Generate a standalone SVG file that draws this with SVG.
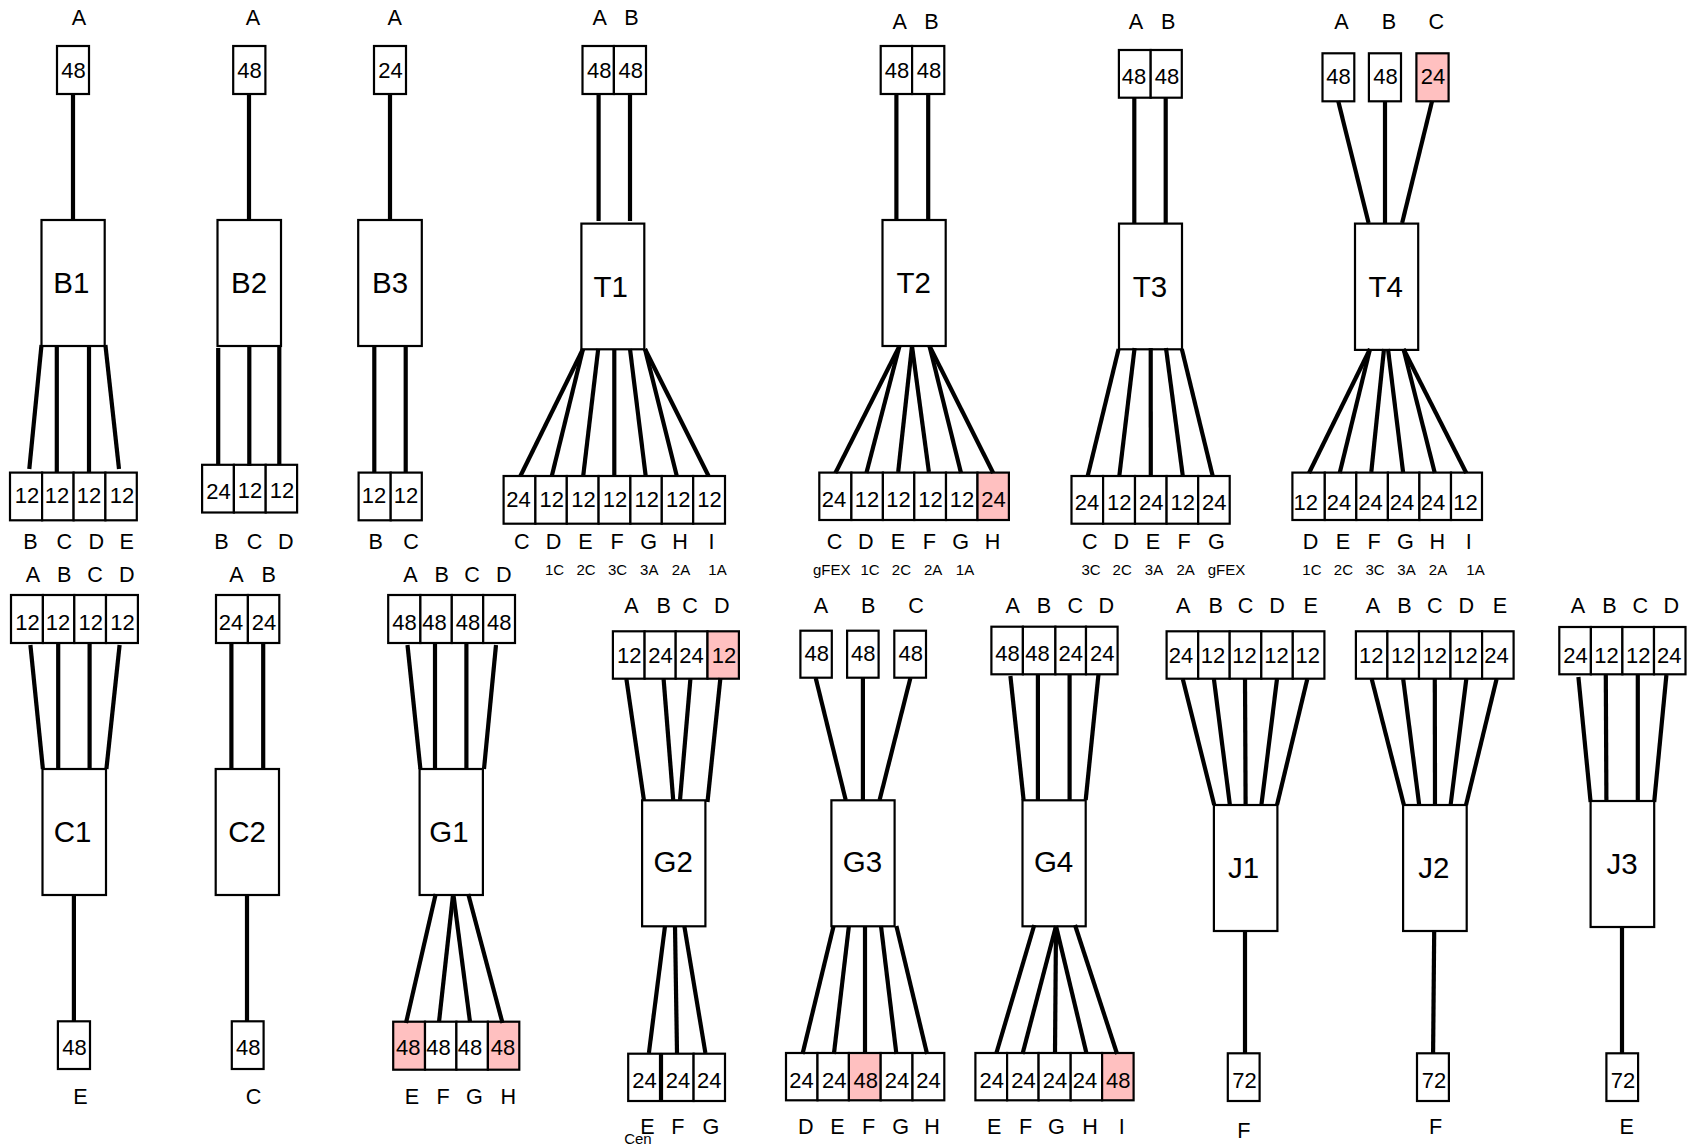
<svg xmlns="http://www.w3.org/2000/svg" width="1691" height="1146" viewBox="0 0 1691 1146">
<style>
text{font-family:"Liberation Sans",Arial,Helvetica,sans-serif;fill:#000;text-anchor:middle}
.n{font-size:22px}.l{font-size:21.6px}.t{font-size:29.5px;transform:translateY(-1px)}.s{font-size:15px}
rect{fill:#fff;stroke:#000;stroke-width:2.2}
rect.p{fill:#ffc0c0}
line{stroke:#000;stroke-width:4.2}
</style>
<rect x="0" y="0" width="1691" height="1146" style="fill:#fff;stroke:none"/>
<g id="B1">
<g id="B1-in"><rect x="57" y="46" width="32" height="48"/><text class="n" x="73.6" y="77.7">48</text><text class="l" x="79" y="25">A</text></g>
<g id="B1-box"><rect x="41.5" y="220" width="63.2" height="126"/><text class="t" x="71.4" y="294">B1</text></g>
<g id="B1-out"><rect x="10" y="472.6" width="32.1" height="47.7"/><rect x="42.1" y="472.6" width="31.5" height="47.7"/><rect x="73.6" y="472.6" width="31.8" height="47.7"/><rect x="105.4" y="472.6" width="31.4" height="47.7"/>
<text class="n" x="27" y="503.2">12</text><text class="n" x="57" y="503.2">12</text><text class="n" x="89" y="503.2">12</text><text class="n" x="122" y="503.2">12</text>
<text class="l" x="30.4" y="549.3">B</text><text class="l" x="64.3" y="549.3">C</text><text class="l" x="96.4" y="549.3">D</text><text class="l" x="126.8" y="549.3">E</text></g>
</g>
<g id="B2">
<g id="B2-in"><rect x="233.2" y="46" width="32.2" height="48"/><text class="n" x="249.6" y="77.7">48</text><text class="l" x="252.9" y="25">A</text></g>
<g id="B2-box"><rect x="217.5" y="220" width="63.5" height="126"/><text class="t" x="249" y="294">B2</text></g>
<g id="B2-out"><rect x="202.1" y="464.8" width="31.8" height="47.7"/><rect x="233.9" y="464.8" width="31.8" height="47.7"/><rect x="265.7" y="464.8" width="31.4" height="47.7"/>
<text class="n" x="218.6" y="499">24</text><text class="n" x="250" y="498.3">12</text><text class="n" x="282" y="498.3">12</text>
<text class="l" x="221.4" y="549.3">B</text><text class="l" x="254.6" y="549.3">C</text><text class="l" x="285.7" y="549.3">D</text></g>
</g>
<g id="B3">
<g id="B3-in"><rect x="374" y="46" width="32" height="48"/><text class="n" x="390.4" y="77.7">24</text><text class="l" x="394.6" y="25">A</text></g>
<g id="B3-box"><rect x="358.2" y="220" width="63.6" height="126"/><text class="t" x="390" y="294">B3</text></g>
<g id="B3-out"><rect x="358.6" y="472.6" width="32.1" height="47.7"/><rect x="390.7" y="472.6" width="31.1" height="47.7"/>
<text class="n" x="374" y="503.2">12</text><text class="n" x="406" y="503.2">12</text>
<text class="l" x="375.7" y="549.3">B</text><text class="l" x="411" y="549.3">C</text></g>
</g>
<g id="T1">
<g id="T1-in"><rect x="582.5" y="46" width="31.4" height="48"/><rect x="613.9" y="46" width="32.1" height="48"/>
<text class="n" x="599.3" y="77.7">48</text><text class="n" x="630.7" y="77.7">48</text><text class="l" x="599.6" y="25">A</text><text class="l" x="631.4" y="25">B</text></g>
<g id="T1-box"><rect x="581.4" y="223.6" width="62.9" height="125.7"/><text class="t" x="610.7" y="297.7">T1</text></g>
<g id="T1-out"><rect x="503.6" y="476" width="31.8" height="47.7"/><rect x="535.4" y="476" width="31.4" height="47.7"/><rect x="566.8" y="476" width="31.8" height="47.7"/><rect x="598.6" y="476" width="31.8" height="47.7"/><rect x="630.4" y="476" width="31.4" height="47.7"/><rect x="661.8" y="476" width="31.4" height="47.7"/><rect x="693.2" y="476" width="31.8" height="47.7"/>
<text class="n" x="518.6" y="507">24</text><text class="n" x="551.8" y="507">12</text><text class="n" x="583.6" y="507">12</text><text class="n" x="615" y="507">12</text><text class="n" x="646.8" y="507">12</text><text class="n" x="678.2" y="507">12</text><text class="n" x="709.6" y="507">12</text>
<text class="l" x="521.8" y="549.3">C</text><text class="l" x="553.6" y="549.3">D</text><text class="l" x="585.4" y="549.3">E</text><text class="l" x="617" y="549.3">F</text><text class="l" x="648.6" y="549.3">G</text><text class="l" x="680" y="549.3">H</text><text class="l" x="711.4" y="549.3">I</text>
<text class="s" x="554.6" y="575.3">1C</text><text class="s" x="586" y="575.3">2C</text><text class="s" x="617.5" y="575.3">3C</text><text class="s" x="649.3" y="575.3">3A</text><text class="s" x="681" y="575.3">2A</text><text class="s" x="717.5" y="575.3">1A</text></g>
</g>
<g id="T2">
<g id="T2-in"><rect x="880.7" y="46" width="31.4" height="48"/><rect x="912.1" y="46" width="32.2" height="48"/>
<text class="n" x="897" y="77.7">48</text><text class="n" x="929" y="77.7">48</text><text class="l" x="899.6" y="29.3">A</text><text class="l" x="931.4" y="29.3">B</text></g>
<g id="T2-box"><rect x="882.5" y="220" width="63.2" height="126"/><text class="t" x="913.6" y="294">T2</text></g>
<g id="T2-out"><rect x="819.3" y="472.6" width="32.1" height="47.4"/><rect x="851.4" y="472.6" width="31.5" height="47.4"/><rect x="882.9" y="472.6" width="31.4" height="47.4"/><rect x="914.3" y="472.6" width="31.7" height="47.4"/><rect x="946" y="472.6" width="31.5" height="47.4"/><rect class="p" x="977.5" y="472.6" width="31.4" height="47.4"/>
<text class="n" x="833.9" y="507">24</text><text class="n" x="867" y="507">12</text><text class="n" x="898.6" y="507">12</text><text class="n" x="930.4" y="507">12</text><text class="n" x="962.1" y="507">12</text><text class="n" x="993.6" y="507">24</text>
<text class="l" x="834.6" y="549.3">C</text><text class="l" x="865.7" y="549.3">D</text><text class="l" x="897.9" y="549.3">E</text><text class="l" x="929.3" y="549.3">F</text><text class="l" x="960.7" y="549.3">G</text><text class="l" x="992.5" y="549.3">H</text>
<text class="s" x="831.8" y="575.3">gFEX</text><text class="s" x="870" y="575.3">1C</text><text class="s" x="901.4" y="575.3">2C</text><text class="s" x="933.2" y="575.3">2A</text><text class="s" x="965" y="575.3">1A</text></g>
</g>
<g id="T3">
<g id="T3-in"><rect x="1118.9" y="50" width="31.8" height="47.7"/><rect x="1150.7" y="50" width="31.1" height="47.7"/>
<text class="n" x="1133.9" y="84">48</text><text class="n" x="1167" y="84">48</text><text class="l" x="1136" y="29.3">A</text><text class="l" x="1168.2" y="29.3">B</text></g>
<g id="T3-box"><rect x="1119" y="223.6" width="63" height="125.7"/><text class="t" x="1150" y="297.7">T3</text></g>
<g id="T3-out"><rect x="1071.5" y="476" width="31.6" height="47.7"/><rect x="1103.1" y="476" width="31.9" height="47.7"/><rect x="1135" y="476" width="31.6" height="47.7"/><rect x="1166.6" y="476" width="31.6" height="47.7"/><rect x="1198.2" y="476" width="31.5" height="47.7"/>
<text class="n" x="1086.9" y="510">24</text><text class="n" x="1119.3" y="510">12</text><text class="n" x="1151.2" y="510">24</text><text class="n" x="1182.8" y="510">12</text><text class="n" x="1214.3" y="510">24</text>
<text class="l" x="1089.8" y="549.3">C</text><text class="l" x="1121.4" y="549.3">D</text><text class="l" x="1152.9" y="549.3">E</text><text class="l" x="1184" y="549.3">F</text><text class="l" x="1216.4" y="549.3">G</text>
<text class="s" x="1091" y="575.3">3C</text><text class="s" x="1122.2" y="575.3">2C</text><text class="s" x="1154" y="575.3">3A</text><text class="s" x="1185.7" y="575.3">2A</text><text class="s" x="1226.4" y="575.3">gFEX</text></g>
</g>
<g id="T4">
<g id="T4-in"><rect x="1322.5" y="53.3" width="31.8" height="48"/><rect x="1368.9" y="53.3" width="32.1" height="48"/><rect class="p" x="1416.4" y="53.3" width="32.2" height="48"/>
<text class="n" x="1338.6" y="84.3">48</text><text class="n" x="1385.4" y="84.3">48</text><text class="n" x="1432.9" y="84.3">24</text>
<text class="l" x="1341.4" y="29.3">A</text><text class="l" x="1389" y="29.3">B</text><text class="l" x="1436.4" y="29.3">C</text></g>
<g id="T4-box"><rect x="1355" y="223.6" width="63.2" height="126.3"/><text class="t" x="1385.7" y="297.7">T4</text></g>
<g id="T4-out"><rect x="1292.4" y="472.6" width="32.4" height="47.4"/><rect x="1324.8" y="472.6" width="31.5" height="47.4"/><rect x="1356.3" y="472.6" width="31.6" height="47.4"/><rect x="1387.9" y="472.6" width="31.5" height="47.4"/><rect x="1419.4" y="472.6" width="31.6" height="47.4"/><rect x="1451" y="472.6" width="31" height="47.4"/>
<text class="n" x="1305.7" y="510">12</text><text class="n" x="1338.9" y="510">24</text><text class="n" x="1370.4" y="510">24</text><text class="n" x="1402" y="510">24</text><text class="n" x="1433.1" y="510">24</text><text class="n" x="1465.5" y="510">12</text>
<text class="l" x="1310.6" y="549.3">D</text><text class="l" x="1343" y="549.3">E</text><text class="l" x="1374.2" y="549.3">F</text><text class="l" x="1405.3" y="549.3">G</text><text class="l" x="1437.3" y="549.3">H</text><text class="l" x="1468.8" y="549.3">I</text>
<text class="s" x="1311.9" y="575.3">1C</text><text class="s" x="1343.4" y="575.3">2C</text><text class="s" x="1375" y="575.3">3C</text><text class="s" x="1406.5" y="575.3">3A</text><text class="s" x="1438" y="575.3">2A</text><text class="s" x="1475.5" y="575.3">1A</text></g>
</g>
<g id="C1" transform="translate(0,1)">
<g id="C1-in"><rect x="11" y="594" width="31.9" height="48"/><rect x="42.9" y="594" width="31.4" height="48"/><rect x="74.3" y="594" width="31.7" height="48"/><rect x="106" y="594" width="31.9" height="48"/>
<text class="n" x="27.5" y="629.3">12</text><text class="n" x="57.9" y="629.3">12</text><text class="n" x="90.7" y="629.3">12</text><text class="n" x="122.5" y="629.3">12</text>
<text class="l" x="32.9" y="580.7">A</text><text class="l" x="64.3" y="580.7">B</text><text class="l" x="95" y="580.7">C</text><text class="l" x="126.8" y="580.7">D</text></g>
<g id="C1-box"><rect x="42.5" y="768" width="63.5" height="126"/><text class="t" x="72.5" y="841.7">C1</text></g>
<g id="C1-out"><rect x="57.9" y="1020.3" width="32.1" height="47.7"/><text class="n" x="74.6" y="1054.2">48</text><text class="l" x="80.4" y="1103">E</text></g>
</g>
<g id="C2" transform="translate(0,1)">
<g id="C2-in"><rect x="216" y="594" width="31.9" height="48"/><rect x="247.9" y="594" width="31.4" height="48"/>
<text class="n" x="231" y="629.3">24</text><text class="n" x="264" y="629.3">24</text><text class="l" x="236.4" y="580.7">A</text><text class="l" x="268.6" y="580.7">B</text></g>
<g id="C2-box"><rect x="215.7" y="768" width="63.3" height="126"/><text class="t" x="247" y="841.7">C2</text></g>
<g id="C2-out"><rect x="231.8" y="1020.3" width="31.8" height="47.7"/><text class="n" x="248.2" y="1054.2">48</text><text class="l" x="253.6" y="1103">C</text></g>
</g>
<g id="G1" transform="translate(0,1)">
<g id="G1-in"><rect x="388.2" y="594" width="32.2" height="48"/><rect x="420.4" y="594" width="31.4" height="48"/><rect x="451.8" y="594" width="31.4" height="48"/><rect x="483.2" y="594" width="31.8" height="48"/>
<text class="n" x="404.6" y="629.3">48</text><text class="n" x="434.6" y="629.3">48</text><text class="n" x="467.9" y="629.3">48</text><text class="n" x="499.3" y="629.3">48</text>
<text class="l" x="410.4" y="580.7">A</text><text class="l" x="441.8" y="580.7">B</text><text class="l" x="472.1" y="580.7">C</text><text class="l" x="503.9" y="580.7">D</text></g>
<g id="G1-box"><rect x="419.6" y="768" width="63.3" height="126"/><text class="t" x="449" y="841.7">G1</text></g>
<g id="G1-out"><rect class="p" x="393.2" y="1020.7" width="31.8" height="48"/><rect x="425" y="1020.7" width="31.4" height="48"/><rect x="456.4" y="1020.7" width="31.5" height="48"/><rect class="p" x="487.9" y="1020.7" width="31.4" height="48"/>
<text class="n" x="408.2" y="1054.2">48</text><text class="n" x="438.6" y="1054.2">48</text><text class="n" x="470" y="1054.2">48</text><text class="n" x="502.9" y="1054.2">48</text>
<text class="l" x="412" y="1103">E</text><text class="l" x="443" y="1103">F</text><text class="l" x="474.3" y="1103">G</text><text class="l" x="508.2" y="1103">H</text></g>
</g>
<g id="G2" transform="translate(0,1)">
<g id="G2-in"><rect x="612.9" y="630.3" width="31.7" height="47.4"/><rect x="644.6" y="630.3" width="31.1" height="47.4"/><rect x="675.7" y="630.3" width="31.8" height="47.4"/><rect class="p" x="707.5" y="630.3" width="31.4" height="47.4"/>
<text class="n" x="629.3" y="661.7">12</text><text class="n" x="660.4" y="661.7">24</text><text class="n" x="691.4" y="661.7">24</text><text class="n" x="723.9" y="661.7">12</text>
<text class="l" x="631.4" y="612.3">A</text><text class="l" x="663.6" y="612.3">B</text><text class="l" x="690" y="612.3">C</text><text class="l" x="721.8" y="612.3">D</text></g>
<g id="G2-box"><rect x="642.1" y="799.3" width="63.3" height="126"/><text class="t" x="673.2" y="871.7">G2</text></g>
<g id="G2-out"><rect x="628.2" y="1052.7" width="31.8" height="47.3"/><rect x="662" y="1052.7" width="31.6" height="47.3"/><rect x="693.6" y="1052.7" width="31.4" height="47.3"/>
<text class="n" x="644.6" y="1087">24</text><text class="n" x="677.9" y="1087">24</text><text class="n" x="709.3" y="1087">24</text>
<text class="l" x="647.5" y="1133.3">E</text><text class="l" x="677.9" y="1133.3">F</text><text class="l" x="711" y="1133.3">G</text><text class="s" x="637.9" y="1142.7">Cen</text></g>
</g>
<g id="G3" transform="translate(0,1)">
<g id="G3-in"><rect x="800.4" y="629.7" width="31.4" height="47"/><rect x="847.1" y="629.7" width="31.5" height="47"/><rect x="894.3" y="629.7" width="31.7" height="47"/>
<text class="n" x="816.8" y="660">48</text><text class="n" x="863.2" y="660">48</text><text class="n" x="910.7" y="660">48</text>
<text class="l" x="821" y="612.3">A</text><text class="l" x="868.2" y="612.3">B</text><text class="l" x="916" y="612.3">C</text></g>
<g id="G3-box"><rect x="831.4" y="799.3" width="63.2" height="126"/><text class="t" x="862.5" y="871.7">G3</text></g>
<g id="G3-out"><rect x="786" y="1052" width="31.5" height="47.3"/><rect x="817.5" y="1052" width="31.4" height="47.3"/><rect class="p" x="848.9" y="1052" width="31.8" height="47.3"/><rect x="880.7" y="1052" width="31.8" height="47.3"/><rect x="912.5" y="1052" width="31.8" height="47.3"/>
<text class="n" x="801.4" y="1086.7">24</text><text class="n" x="834.3" y="1086.7">24</text><text class="n" x="865.7" y="1086.7">48</text><text class="n" x="897.1" y="1086.7">24</text><text class="n" x="928.6" y="1086.7">24</text>
<text class="l" x="805.7" y="1133.3">D</text><text class="l" x="837.5" y="1133.3">E</text><text class="l" x="868.6" y="1133.3">F</text><text class="l" x="900.7" y="1133.3">G</text><text class="l" x="932.1" y="1133.3">H</text></g>
</g>
<g id="G4" transform="translate(0,1)">
<g id="G4-in"><rect x="991.4" y="625.7" width="31.5" height="47.6"/><rect x="1022.9" y="625.7" width="32.5" height="47.6"/><rect x="1055.4" y="625.7" width="30.6" height="47.6"/><rect x="1086" y="625.7" width="31.6" height="47.6"/>
<text class="n" x="1007.5" y="660">48</text><text class="n" x="1037.5" y="660">48</text><text class="n" x="1070.7" y="660">24</text><text class="n" x="1102.3" y="660">24</text>
<text class="l" x="1012.7" y="612.3">A</text><text class="l" x="1044" y="612.3">B</text><text class="l" x="1075.3" y="612.3">C</text><text class="l" x="1106.4" y="612.3">D</text></g>
<g id="G4-box"><rect x="1022.5" y="799.3" width="63.2" height="126"/><text class="t" x="1053.6" y="871.7">G4</text></g>
<g id="G4-out"><rect x="975.4" y="1052" width="31.7" height="47.3"/><rect x="1007.1" y="1052" width="31.5" height="47.3"/><rect x="1038.6" y="1052" width="32.1" height="47.3"/><rect x="1070.7" y="1052" width="31.4" height="47.3"/><rect class="p" x="1102.1" y="1052" width="31.5" height="47.3"/>
<text class="n" x="991.8" y="1086.7">24</text><text class="n" x="1023.6" y="1086.7">24</text><text class="n" x="1055" y="1086.7">24</text><text class="n" x="1085" y="1086.7">24</text><text class="n" x="1118.2" y="1086.7">48</text>
<text class="l" x="994.3" y="1133.3">E</text><text class="l" x="1025.7" y="1133.3">F</text><text class="l" x="1056.4" y="1133.3">G</text><text class="l" x="1090" y="1133.3">H</text><text class="l" x="1121.8" y="1133.3">I</text></g>
</g>
<g id="J1" transform="translate(0,1)">
<g id="J1-in"><rect x="1166.6" y="630.3" width="31.6" height="47.4"/><rect x="1198.2" y="630.3" width="31.5" height="47.4"/><rect x="1229.7" y="630.3" width="31.6" height="47.4"/><rect x="1261.3" y="630.3" width="31.5" height="47.4"/><rect x="1292.8" y="630.3" width="31.6" height="47.4"/>
<text class="n" x="1181.1" y="661.7">24</text><text class="n" x="1213.1" y="661.7">12</text><text class="n" x="1244.6" y="661.7">12</text><text class="n" x="1276.6" y="661.7">12</text><text class="n" x="1307.7" y="661.7">12</text>
<text class="l" x="1183.2" y="612.3">A</text><text class="l" x="1215.6" y="612.3">B</text><text class="l" x="1245.5" y="612.3">C</text><text class="l" x="1277" y="612.3">D</text><text class="l" x="1310.7" y="612.3">E</text></g>
<g id="J1-box"><rect x="1213.9" y="804" width="63.5" height="126"/><text class="t" x="1243.5" y="877.7">J1</text></g>
<g id="J1-out"><rect x="1227.8" y="1052.3" width="31.8" height="47.7"/><text class="n" x="1244.6" y="1087">72</text><text class="l" x="1243.9" y="1136.7">F</text></g>
</g>
<g id="J2" transform="translate(0,1)">
<g id="J2-in"><rect x="1355.9" y="630.3" width="31.5" height="47.4"/><rect x="1387.4" y="630.3" width="31.6" height="47.4"/><rect x="1419" y="630.3" width="31.5" height="47.4"/><rect x="1450.5" y="630.3" width="31.6" height="47.4"/><rect x="1482.1" y="630.3" width="31.5" height="47.4"/>
<text class="n" x="1371.3" y="661.7">12</text><text class="n" x="1403.2" y="661.7">12</text><text class="n" x="1434.8" y="661.7">12</text><text class="n" x="1465.5" y="661.7">12</text><text class="n" x="1496.6" y="661.7">24</text>
<text class="l" x="1372.9" y="612.3">A</text><text class="l" x="1404.5" y="612.3">B</text><text class="l" x="1434.8" y="612.3">C</text><text class="l" x="1466.3" y="612.3">D</text><text class="l" x="1500" y="612.3">E</text></g>
<g id="J2-box"><rect x="1403.1" y="804" width="63.6" height="126"/><text class="t" x="1433.9" y="877.7">J2</text></g>
<g id="J2-out"><rect x="1417" y="1052.3" width="31.9" height="47.7"/><text class="n" x="1433.9" y="1087">72</text><text class="l" x="1435.6" y="1133.3">F</text></g>
</g>
<g id="J3" transform="translate(0,1)">
<g id="J3-in"><rect x="1559.3" y="626" width="31.6" height="47.3"/><rect x="1590.9" y="626" width="31.5" height="47.3"/><rect x="1622.4" y="626" width="31.6" height="47.3"/><rect x="1654" y="626" width="31.5" height="47.3"/>
<text class="n" x="1575.5" y="661.7">24</text><text class="n" x="1606.6" y="661.7">12</text><text class="n" x="1638.2" y="661.7">12</text><text class="n" x="1669.3" y="661.7">24</text>
<text class="l" x="1578" y="612.3">A</text><text class="l" x="1609.5" y="612.3">B</text><text class="l" x="1640.2" y="612.3">C</text><text class="l" x="1671.4" y="612.3">D</text></g>
<g id="J3-box"><rect x="1590.6" y="800" width="63.6" height="126"/><text class="t" x="1622" y="874.3">J3</text></g>
<g id="J3-out"><rect x="1606.4" y="1052.3" width="31.7" height="47.7"/><text class="n" x="1623.1" y="1087">72</text><text class="l" x="1626.7" y="1133.3">E</text></g>
</g>
<g id="connectors">
<g id="connectors-upper">
<line x1="73" y1="94" x2="73" y2="220"/>
<line x1="41.5" y1="345" x2="29.3" y2="469"/><line x1="56.8" y1="346" x2="56.8" y2="472"/><line x1="89" y1="346" x2="89" y2="472"/><line x1="105.4" y1="345" x2="119" y2="469"/>
<line x1="249" y1="94" x2="249" y2="220"/>
<line x1="218.2" y1="348" x2="218.2" y2="464"/><line x1="249.3" y1="346" x2="249.3" y2="466"/><line x1="279.3" y1="346" x2="279.3" y2="464"/>
<line x1="390" y1="94" x2="390" y2="220"/>
<line x1="374.3" y1="346" x2="374.3" y2="472"/><line x1="405.7" y1="346" x2="405.7" y2="472"/>
<line x1="598.6" y1="94" x2="598.6" y2="221"/><line x1="630" y1="94" x2="630" y2="221"/>
<line x1="583" y1="349" x2="520.4" y2="476"/><line x1="583" y1="349" x2="551.8" y2="476"/><line x1="598.2" y1="349" x2="583.2" y2="476"/><line x1="614.3" y1="349" x2="614.3" y2="476"/><line x1="630" y1="349" x2="645.7" y2="476"/><line x1="645" y1="349" x2="676.8" y2="476"/><line x1="645" y1="349" x2="708.6" y2="476"/>
<line x1="896.4" y1="94" x2="896.4" y2="220"/><line x1="928.2" y1="94" x2="928.2" y2="220"/>
<line x1="899.5" y1="346" x2="835.4" y2="473"/><line x1="899.5" y1="346" x2="866.4" y2="473"/><line x1="912" y1="346" x2="898.2" y2="472"/><line x1="912" y1="346" x2="928.9" y2="472"/><line x1="929.5" y1="346" x2="961" y2="473"/><line x1="929.5" y1="346" x2="993.2" y2="473"/>
<line x1="1134.3" y1="98" x2="1134.3" y2="223"/><line x1="1165.7" y1="98" x2="1165.7" y2="223"/>
<line x1="1118.6" y1="349" x2="1087.7" y2="476"/><line x1="1134.6" y1="348" x2="1119.3" y2="476"/><line x1="1150.7" y1="348" x2="1150.8" y2="476"/><line x1="1166" y1="348" x2="1182.8" y2="476"/><line x1="1181.8" y1="349" x2="1212.7" y2="476"/>
<line x1="1338.2" y1="101" x2="1368.6" y2="223"/><line x1="1385" y1="101" x2="1385" y2="223"/><line x1="1432.1" y1="101" x2="1402.1" y2="223"/>
<line x1="1370" y1="349" x2="1309" y2="473"/><line x1="1370" y1="349" x2="1339.7" y2="473"/><line x1="1384" y1="349" x2="1371.3" y2="472"/><line x1="1388" y1="349" x2="1403.2" y2="473"/><line x1="1403.5" y1="349" x2="1434.8" y2="473"/><line x1="1403.5" y1="349" x2="1466.3" y2="473"/>
</g>
<g id="connectors-lower" transform="translate(0,1)">
<line x1="30.4" y1="644" x2="42.9" y2="768"/><line x1="58.2" y1="642" x2="58.2" y2="768"/><line x1="89.6" y1="642" x2="89.6" y2="768"/><line x1="119.6" y1="644" x2="106.4" y2="768"/>
<line x1="73.9" y1="894" x2="73.9" y2="1020"/>
<line x1="231.4" y1="642" x2="231.4" y2="768"/><line x1="263.2" y1="642" x2="263.2" y2="768"/>
<line x1="247" y1="894" x2="247" y2="1020"/>
<line x1="407.5" y1="644" x2="420.4" y2="768"/><line x1="435" y1="642" x2="435" y2="768"/><line x1="466.4" y1="642" x2="466.4" y2="768"/><line x1="496" y1="644" x2="484" y2="768"/>
<line x1="435.7" y1="893" x2="406" y2="1022"/><line x1="452.9" y1="895" x2="439" y2="1021"/><line x1="453.6" y1="895" x2="470" y2="1021"/><line x1="468.2" y1="893" x2="502.5" y2="1022"/>
<line x1="626.4" y1="678" x2="643.9" y2="799"/><line x1="663.6" y1="678" x2="673.2" y2="799"/><line x1="690.4" y1="678" x2="680" y2="799"/><line x1="720.4" y1="677" x2="707.5" y2="801"/>
<line x1="665" y1="925" x2="648.9" y2="1052"/><line x1="675" y1="925" x2="677" y2="1052"/><line x1="684.3" y1="925" x2="705.4" y2="1052"/>
<line x1="815.7" y1="677" x2="845.7" y2="799"/><line x1="862.9" y1="677" x2="862.9" y2="799"/><line x1="910.4" y1="677" x2="879.6" y2="799"/>
<line x1="833.6" y1="925" x2="802.5" y2="1053"/><line x1="848.9" y1="925" x2="833.9" y2="1053"/><line x1="865" y1="925" x2="865" y2="1052"/><line x1="881" y1="925" x2="896.4" y2="1053"/><line x1="896.4" y1="925" x2="927.1" y2="1053"/>
<line x1="1010.4" y1="675" x2="1023.6" y2="799"/><line x1="1037.9" y1="673" x2="1037.9" y2="799"/><line x1="1069.6" y1="673" x2="1069.6" y2="799"/><line x1="1098.5" y1="673" x2="1085.7" y2="799"/>
<line x1="1034.3" y1="924" x2="996.4" y2="1052"/><line x1="1056" y1="925" x2="1022.5" y2="1053"/><line x1="1056" y1="925" x2="1055" y2="1052"/><line x1="1056" y1="925" x2="1086.4" y2="1052"/><line x1="1075" y1="924" x2="1117.1" y2="1053"/>
<line x1="1182.8" y1="678" x2="1214.2" y2="804"/><line x1="1213.9" y1="678" x2="1229.9" y2="804"/><line x1="1245" y1="678" x2="1245.6" y2="804"/><line x1="1277" y1="678" x2="1261.4" y2="804"/><line x1="1307.3" y1="678" x2="1277" y2="804"/>
<line x1="1245" y1="929" x2="1245" y2="1053"/>
<line x1="1371.7" y1="678" x2="1403.9" y2="804"/><line x1="1403.2" y1="678" x2="1419.2" y2="804"/><line x1="1434.8" y1="678" x2="1435" y2="804"/><line x1="1466.3" y1="678" x2="1450.6" y2="804"/><line x1="1496.6" y1="678" x2="1466" y2="804"/>
<line x1="1434.2" y1="930" x2="1433.1" y2="1052"/>
<line x1="1578.4" y1="676" x2="1590.6" y2="801"/><line x1="1605.8" y1="674" x2="1606.4" y2="801"/><line x1="1637.8" y1="674" x2="1637.8" y2="801"/><line x1="1666.4" y1="674" x2="1654.2" y2="801"/>
<line x1="1622" y1="926" x2="1622" y2="1052"/>
</g>
</g>
</svg>
